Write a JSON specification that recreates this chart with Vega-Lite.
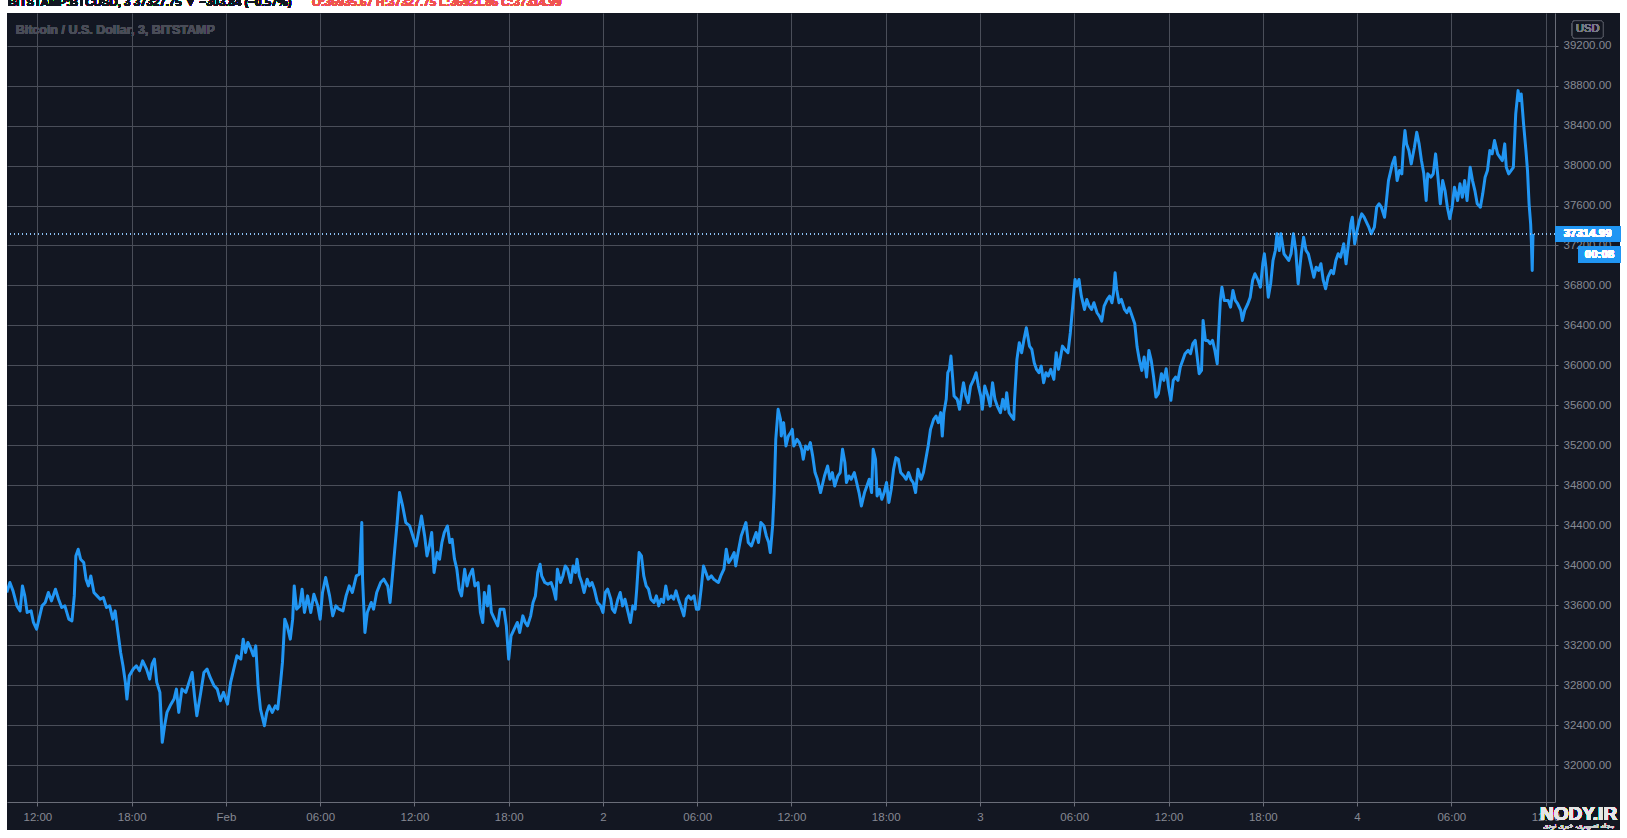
{
  "$schema": "https://vega.github.io/schema/vega-lite/v6.json",
  "autosize": {"type": "none"},
  "width": 1548,
  "height": 789,
  "padding": {"left": 7, "top": 13, "right": 72, "bottom": 36},
  "background": "#131722",
  "config": {
    "view": {"stroke": null},
    "axis": {
      "grid": true,
      "gridColor": "#4a4e59",
      "gridWidth": 1,
      "domain": true,
      "domainColor": "#6a6d78",
      "tickColor": "#6a6d78",
      "labelColor": "#868993",
      "labelFont": "Liberation Sans",
      "labelFontSize": 11.5,
      "labelOverlap": false,
      "labelFlush": false
    }
  },
  "data": {
    "format": {"parse": {"time": "date:'%Y-%m-%d %H:%M'"}},
    "values": [
      {"time": "2021-01-31 10:03", "close": 33727},
      {"time": "2021-01-31 10:15", "close": 33827},
      {"time": "2021-01-31 10:27", "close": 33743},
      {"time": "2021-01-31 10:42", "close": 33593},
      {"time": "2021-01-31 10:54", "close": 33543},
      {"time": "2021-01-31 11:03", "close": 33793},
      {"time": "2021-01-31 11:12", "close": 33693},
      {"time": "2021-01-31 11:21", "close": 33527},
      {"time": "2021-01-31 11:36", "close": 33543},
      {"time": "2021-01-31 11:45", "close": 33427},
      {"time": "2021-01-31 11:57", "close": 33360},
      {"time": "2021-01-31 12:09", "close": 33493},
      {"time": "2021-01-31 12:18", "close": 33593},
      {"time": "2021-01-31 12:30", "close": 33627},
      {"time": "2021-01-31 12:42", "close": 33727},
      {"time": "2021-01-31 12:54", "close": 33643},
      {"time": "2021-01-31 13:09", "close": 33760},
      {"time": "2021-01-31 13:21", "close": 33660},
      {"time": "2021-01-31 13:33", "close": 33577},
      {"time": "2021-01-31 13:45", "close": 33593},
      {"time": "2021-01-31 14:00", "close": 33460},
      {"time": "2021-01-31 14:12", "close": 33443},
      {"time": "2021-01-31 14:21", "close": 33693},
      {"time": "2021-01-31 14:27", "close": 34093},
      {"time": "2021-01-31 14:36", "close": 34160},
      {"time": "2021-01-31 14:45", "close": 34060},
      {"time": "2021-01-31 14:57", "close": 34027},
      {"time": "2021-01-31 15:06", "close": 33860},
      {"time": "2021-01-31 15:15", "close": 33793},
      {"time": "2021-01-31 15:24", "close": 33893},
      {"time": "2021-01-31 15:36", "close": 33727},
      {"time": "2021-01-31 15:48", "close": 33693},
      {"time": "2021-01-31 16:00", "close": 33660},
      {"time": "2021-01-31 16:12", "close": 33677},
      {"time": "2021-01-31 16:24", "close": 33577},
      {"time": "2021-01-31 16:36", "close": 33593},
      {"time": "2021-01-31 16:48", "close": 33460},
      {"time": "2021-01-31 16:57", "close": 33543},
      {"time": "2021-01-31 17:06", "close": 33360},
      {"time": "2021-01-31 17:18", "close": 33127},
      {"time": "2021-01-31 17:27", "close": 32993},
      {"time": "2021-01-31 17:36", "close": 32827},
      {"time": "2021-01-31 17:42", "close": 32660},
      {"time": "2021-01-31 17:51", "close": 32893},
      {"time": "2021-01-31 18:06", "close": 32960},
      {"time": "2021-01-31 18:18", "close": 32993},
      {"time": "2021-01-31 18:30", "close": 32943},
      {"time": "2021-01-31 18:42", "close": 33043},
      {"time": "2021-01-31 18:57", "close": 32960},
      {"time": "2021-01-31 19:09", "close": 32860},
      {"time": "2021-01-31 19:18", "close": 33010},
      {"time": "2021-01-31 19:27", "close": 33060},
      {"time": "2021-01-31 19:36", "close": 32827},
      {"time": "2021-01-31 19:48", "close": 32727},
      {"time": "2021-01-31 19:57", "close": 32227},
      {"time": "2021-01-31 20:06", "close": 32393},
      {"time": "2021-01-31 20:15", "close": 32527},
      {"time": "2021-01-31 20:27", "close": 32593},
      {"time": "2021-01-31 20:42", "close": 32660},
      {"time": "2021-01-31 20:51", "close": 32760},
      {"time": "2021-01-31 21:00", "close": 32527},
      {"time": "2021-01-31 21:12", "close": 32760},
      {"time": "2021-01-31 21:27", "close": 32727},
      {"time": "2021-01-31 21:39", "close": 32827},
      {"time": "2021-01-31 21:51", "close": 32927},
      {"time": "2021-01-31 22:00", "close": 32693},
      {"time": "2021-01-31 22:09", "close": 32493},
      {"time": "2021-01-31 22:24", "close": 32727},
      {"time": "2021-01-31 22:36", "close": 32927},
      {"time": "2021-01-31 22:48", "close": 32960},
      {"time": "2021-01-31 23:00", "close": 32877},
      {"time": "2021-01-31 23:15", "close": 32793},
      {"time": "2021-01-31 23:27", "close": 32760},
      {"time": "2021-01-31 23:39", "close": 32643},
      {"time": "2021-01-31 23:51", "close": 32727},
      {"time": "2021-02-01 00:06", "close": 32610},
      {"time": "2021-02-01 00:18", "close": 32827},
      {"time": "2021-02-01 00:30", "close": 32960},
      {"time": "2021-02-01 00:42", "close": 33093},
      {"time": "2021-02-01 00:57", "close": 33060},
      {"time": "2021-02-01 01:06", "close": 33260},
      {"time": "2021-02-01 01:15", "close": 33127},
      {"time": "2021-02-01 01:24", "close": 33227},
      {"time": "2021-02-01 01:36", "close": 33160},
      {"time": "2021-02-01 01:45", "close": 33093},
      {"time": "2021-02-01 01:54", "close": 33193},
      {"time": "2021-02-01 02:03", "close": 32793},
      {"time": "2021-02-01 02:12", "close": 32560},
      {"time": "2021-02-01 02:27", "close": 32393},
      {"time": "2021-02-01 02:36", "close": 32527},
      {"time": "2021-02-01 02:45", "close": 32593},
      {"time": "2021-02-01 02:57", "close": 32527},
      {"time": "2021-02-01 03:09", "close": 32593},
      {"time": "2021-02-01 03:18", "close": 32560},
      {"time": "2021-02-01 03:30", "close": 32860},
      {"time": "2021-02-01 03:36", "close": 33027},
      {"time": "2021-02-01 03:45", "close": 33460},
      {"time": "2021-02-01 03:54", "close": 33393},
      {"time": "2021-02-01 04:06", "close": 33260},
      {"time": "2021-02-01 04:15", "close": 33460},
      {"time": "2021-02-01 04:21", "close": 33793},
      {"time": "2021-02-01 04:30", "close": 33560},
      {"time": "2021-02-01 04:42", "close": 33593},
      {"time": "2021-02-01 04:51", "close": 33760},
      {"time": "2021-02-01 05:00", "close": 33527},
      {"time": "2021-02-01 05:12", "close": 33693},
      {"time": "2021-02-01 05:24", "close": 33527},
      {"time": "2021-02-01 05:36", "close": 33710},
      {"time": "2021-02-01 05:51", "close": 33593},
      {"time": "2021-02-01 06:00", "close": 33460},
      {"time": "2021-02-01 06:09", "close": 33727},
      {"time": "2021-02-01 06:21", "close": 33877},
      {"time": "2021-02-01 06:36", "close": 33693},
      {"time": "2021-02-01 06:48", "close": 33493},
      {"time": "2021-02-01 07:00", "close": 33593},
      {"time": "2021-02-01 07:12", "close": 33560},
      {"time": "2021-02-01 07:27", "close": 33543},
      {"time": "2021-02-01 07:39", "close": 33693},
      {"time": "2021-02-01 07:51", "close": 33793},
      {"time": "2021-02-01 08:03", "close": 33727},
      {"time": "2021-02-01 08:18", "close": 33893},
      {"time": "2021-02-01 08:30", "close": 33910},
      {"time": "2021-02-01 08:39", "close": 34427},
      {"time": "2021-02-01 08:42", "close": 33860},
      {"time": "2021-02-01 08:51", "close": 33327},
      {"time": "2021-02-01 09:00", "close": 33527},
      {"time": "2021-02-01 09:15", "close": 33627},
      {"time": "2021-02-01 09:24", "close": 33560},
      {"time": "2021-02-01 09:36", "close": 33727},
      {"time": "2021-02-01 09:51", "close": 33827},
      {"time": "2021-02-01 10:03", "close": 33860},
      {"time": "2021-02-01 10:18", "close": 33793},
      {"time": "2021-02-01 10:27", "close": 33627},
      {"time": "2021-02-01 10:36", "close": 33893},
      {"time": "2021-02-01 10:45", "close": 34160},
      {"time": "2021-02-01 10:54", "close": 34427},
      {"time": "2021-02-01 11:03", "close": 34727},
      {"time": "2021-02-01 11:15", "close": 34593},
      {"time": "2021-02-01 11:27", "close": 34427},
      {"time": "2021-02-01 11:42", "close": 34393},
      {"time": "2021-02-01 11:54", "close": 34293},
      {"time": "2021-02-01 12:06", "close": 34193},
      {"time": "2021-02-01 12:18", "close": 34360},
      {"time": "2021-02-01 12:27", "close": 34493},
      {"time": "2021-02-01 12:39", "close": 34293},
      {"time": "2021-02-01 12:48", "close": 34093},
      {"time": "2021-02-01 12:57", "close": 34193},
      {"time": "2021-02-01 13:06", "close": 34327},
      {"time": "2021-02-01 13:15", "close": 33927},
      {"time": "2021-02-01 13:27", "close": 34127},
      {"time": "2021-02-01 13:36", "close": 34060},
      {"time": "2021-02-01 13:45", "close": 34227},
      {"time": "2021-02-01 13:54", "close": 34327},
      {"time": "2021-02-01 14:06", "close": 34393},
      {"time": "2021-02-01 14:15", "close": 34227},
      {"time": "2021-02-01 14:24", "close": 34260},
      {"time": "2021-02-01 14:33", "close": 34060},
      {"time": "2021-02-01 14:42", "close": 33960},
      {"time": "2021-02-01 14:51", "close": 33760},
      {"time": "2021-02-01 15:00", "close": 33693},
      {"time": "2021-02-01 15:12", "close": 33960},
      {"time": "2021-02-01 15:21", "close": 33793},
      {"time": "2021-02-01 15:30", "close": 33893},
      {"time": "2021-02-01 15:42", "close": 33960},
      {"time": "2021-02-01 15:51", "close": 33793},
      {"time": "2021-02-01 16:03", "close": 33827},
      {"time": "2021-02-01 16:12", "close": 33527},
      {"time": "2021-02-01 16:21", "close": 33427},
      {"time": "2021-02-01 16:27", "close": 33727},
      {"time": "2021-02-01 16:39", "close": 33593},
      {"time": "2021-02-01 16:45", "close": 33793},
      {"time": "2021-02-01 16:54", "close": 33527},
      {"time": "2021-02-01 17:06", "close": 33460},
      {"time": "2021-02-01 17:18", "close": 33393},
      {"time": "2021-02-01 17:27", "close": 33560},
      {"time": "2021-02-01 17:42", "close": 33560},
      {"time": "2021-02-01 17:51", "close": 33393},
      {"time": "2021-02-01 18:00", "close": 33060},
      {"time": "2021-02-01 18:09", "close": 33293},
      {"time": "2021-02-01 18:21", "close": 33360},
      {"time": "2021-02-01 18:33", "close": 33427},
      {"time": "2021-02-01 18:42", "close": 33327},
      {"time": "2021-02-01 18:54", "close": 33493},
      {"time": "2021-02-01 19:03", "close": 33427},
      {"time": "2021-02-01 19:12", "close": 33393},
      {"time": "2021-02-01 19:24", "close": 33493},
      {"time": "2021-02-01 19:33", "close": 33627},
      {"time": "2021-02-01 19:42", "close": 33693},
      {"time": "2021-02-01 19:51", "close": 33927},
      {"time": "2021-02-01 20:00", "close": 34010},
      {"time": "2021-02-01 20:06", "close": 33893},
      {"time": "2021-02-01 20:18", "close": 33827},
      {"time": "2021-02-01 20:30", "close": 33810},
      {"time": "2021-02-01 20:42", "close": 33827},
      {"time": "2021-02-01 20:51", "close": 33760},
      {"time": "2021-02-01 21:00", "close": 33660},
      {"time": "2021-02-01 21:06", "close": 33960},
      {"time": "2021-02-01 21:18", "close": 33827},
      {"time": "2021-02-01 21:27", "close": 33893},
      {"time": "2021-02-01 21:36", "close": 33993},
      {"time": "2021-02-01 21:45", "close": 33960},
      {"time": "2021-02-01 21:57", "close": 33827},
      {"time": "2021-02-01 22:06", "close": 33993},
      {"time": "2021-02-01 22:15", "close": 33927},
      {"time": "2021-02-01 22:21", "close": 34060},
      {"time": "2021-02-01 22:30", "close": 33893},
      {"time": "2021-02-01 22:39", "close": 33827},
      {"time": "2021-02-01 22:48", "close": 33727},
      {"time": "2021-02-01 23:00", "close": 33860},
      {"time": "2021-02-01 23:09", "close": 33793},
      {"time": "2021-02-01 23:18", "close": 33827},
      {"time": "2021-02-01 23:27", "close": 33760},
      {"time": "2021-02-01 23:39", "close": 33627},
      {"time": "2021-02-01 23:51", "close": 33593},
      {"time": "2021-02-02 00:00", "close": 33527},
      {"time": "2021-02-02 00:09", "close": 33727},
      {"time": "2021-02-02 00:18", "close": 33760},
      {"time": "2021-02-02 00:30", "close": 33660},
      {"time": "2021-02-02 00:36", "close": 33560},
      {"time": "2021-02-02 00:45", "close": 33527},
      {"time": "2021-02-02 00:57", "close": 33660},
      {"time": "2021-02-02 01:06", "close": 33727},
      {"time": "2021-02-02 01:15", "close": 33593},
      {"time": "2021-02-02 01:24", "close": 33660},
      {"time": "2021-02-02 01:36", "close": 33527},
      {"time": "2021-02-02 01:45", "close": 33427},
      {"time": "2021-02-02 01:54", "close": 33593},
      {"time": "2021-02-02 02:03", "close": 33560},
      {"time": "2021-02-02 02:09", "close": 33760},
      {"time": "2021-02-02 02:18", "close": 34127},
      {"time": "2021-02-02 02:27", "close": 34093},
      {"time": "2021-02-02 02:36", "close": 33893},
      {"time": "2021-02-02 02:45", "close": 33793},
      {"time": "2021-02-02 02:54", "close": 33760},
      {"time": "2021-02-02 03:03", "close": 33660},
      {"time": "2021-02-02 03:15", "close": 33627},
      {"time": "2021-02-02 03:24", "close": 33693},
      {"time": "2021-02-02 03:33", "close": 33593},
      {"time": "2021-02-02 03:42", "close": 33660},
      {"time": "2021-02-02 03:51", "close": 33627},
      {"time": "2021-02-02 04:00", "close": 33793},
      {"time": "2021-02-02 04:09", "close": 33660},
      {"time": "2021-02-02 04:21", "close": 33693},
      {"time": "2021-02-02 04:30", "close": 33660},
      {"time": "2021-02-02 04:39", "close": 33743},
      {"time": "2021-02-02 04:48", "close": 33660},
      {"time": "2021-02-02 04:57", "close": 33593},
      {"time": "2021-02-02 05:09", "close": 33493},
      {"time": "2021-02-02 05:18", "close": 33660},
      {"time": "2021-02-02 05:27", "close": 33693},
      {"time": "2021-02-02 05:36", "close": 33660},
      {"time": "2021-02-02 05:48", "close": 33693},
      {"time": "2021-02-02 05:57", "close": 33560},
      {"time": "2021-02-02 06:06", "close": 33560},
      {"time": "2021-02-02 06:15", "close": 33760},
      {"time": "2021-02-02 06:24", "close": 33993},
      {"time": "2021-02-02 06:33", "close": 33927},
      {"time": "2021-02-02 06:42", "close": 33860},
      {"time": "2021-02-02 06:54", "close": 33893},
      {"time": "2021-02-02 07:03", "close": 33860},
      {"time": "2021-02-02 07:12", "close": 33843},
      {"time": "2021-02-02 07:21", "close": 33827},
      {"time": "2021-02-02 07:30", "close": 33893},
      {"time": "2021-02-02 07:42", "close": 33960},
      {"time": "2021-02-02 07:51", "close": 34160},
      {"time": "2021-02-02 08:00", "close": 34027},
      {"time": "2021-02-02 08:09", "close": 34060},
      {"time": "2021-02-02 08:21", "close": 34127},
      {"time": "2021-02-02 08:27", "close": 33993},
      {"time": "2021-02-02 08:36", "close": 34127},
      {"time": "2021-02-02 08:48", "close": 34293},
      {"time": "2021-02-02 08:57", "close": 34360},
      {"time": "2021-02-02 09:06", "close": 34427},
      {"time": "2021-02-02 09:15", "close": 34227},
      {"time": "2021-02-02 09:27", "close": 34193},
      {"time": "2021-02-02 09:36", "close": 34260},
      {"time": "2021-02-02 09:45", "close": 34327},
      {"time": "2021-02-02 09:54", "close": 34227},
      {"time": "2021-02-02 10:03", "close": 34427},
      {"time": "2021-02-02 10:15", "close": 34393},
      {"time": "2021-02-02 10:24", "close": 34293},
      {"time": "2021-02-02 10:33", "close": 34227},
      {"time": "2021-02-02 10:39", "close": 34127},
      {"time": "2021-02-02 10:48", "close": 34393},
      {"time": "2021-02-02 10:54", "close": 34727},
      {"time": "2021-02-02 11:00", "close": 35260},
      {"time": "2021-02-02 11:09", "close": 35560},
      {"time": "2021-02-02 11:18", "close": 35460},
      {"time": "2021-02-02 11:21", "close": 35293},
      {"time": "2021-02-02 11:30", "close": 35427},
      {"time": "2021-02-02 11:39", "close": 35193},
      {"time": "2021-02-02 11:48", "close": 35293},
      {"time": "2021-02-02 11:57", "close": 35327},
      {"time": "2021-02-02 12:03", "close": 35360},
      {"time": "2021-02-02 12:09", "close": 35193},
      {"time": "2021-02-02 12:21", "close": 35260},
      {"time": "2021-02-02 12:30", "close": 35227},
      {"time": "2021-02-02 12:39", "close": 35160},
      {"time": "2021-02-02 12:45", "close": 35060},
      {"time": "2021-02-02 12:54", "close": 35193},
      {"time": "2021-02-02 13:03", "close": 35160},
      {"time": "2021-02-02 13:12", "close": 35227},
      {"time": "2021-02-02 13:21", "close": 35093},
      {"time": "2021-02-02 13:30", "close": 34927},
      {"time": "2021-02-02 13:39", "close": 34860},
      {"time": "2021-02-02 13:51", "close": 34727},
      {"time": "2021-02-02 13:57", "close": 34793},
      {"time": "2021-02-02 14:06", "close": 34893},
      {"time": "2021-02-02 14:18", "close": 34993},
      {"time": "2021-02-02 14:27", "close": 34860},
      {"time": "2021-02-02 14:36", "close": 34927},
      {"time": "2021-02-02 14:45", "close": 34793},
      {"time": "2021-02-02 14:57", "close": 34893},
      {"time": "2021-02-02 15:06", "close": 34927},
      {"time": "2021-02-02 15:15", "close": 35160},
      {"time": "2021-02-02 15:24", "close": 35027},
      {"time": "2021-02-02 15:30", "close": 34827},
      {"time": "2021-02-02 15:39", "close": 34893},
      {"time": "2021-02-02 15:48", "close": 34860},
      {"time": "2021-02-02 16:00", "close": 34927},
      {"time": "2021-02-02 16:09", "close": 34827},
      {"time": "2021-02-02 16:18", "close": 34727},
      {"time": "2021-02-02 16:27", "close": 34593},
      {"time": "2021-02-02 16:39", "close": 34727},
      {"time": "2021-02-02 16:48", "close": 34793},
      {"time": "2021-02-02 16:57", "close": 34860},
      {"time": "2021-02-02 17:06", "close": 34727},
      {"time": "2021-02-02 17:12", "close": 35160},
      {"time": "2021-02-02 17:21", "close": 35060},
      {"time": "2021-02-02 17:27", "close": 34693},
      {"time": "2021-02-02 17:36", "close": 34760},
      {"time": "2021-02-02 17:45", "close": 34660},
      {"time": "2021-02-02 17:54", "close": 34727},
      {"time": "2021-02-02 18:03", "close": 34827},
      {"time": "2021-02-02 18:12", "close": 34627},
      {"time": "2021-02-02 18:21", "close": 34760},
      {"time": "2021-02-02 18:30", "close": 34960},
      {"time": "2021-02-02 18:39", "close": 35077},
      {"time": "2021-02-02 18:48", "close": 35060},
      {"time": "2021-02-02 18:57", "close": 34927},
      {"time": "2021-02-02 19:09", "close": 34893},
      {"time": "2021-02-02 19:18", "close": 34860},
      {"time": "2021-02-02 19:27", "close": 34927},
      {"time": "2021-02-02 19:36", "close": 34860},
      {"time": "2021-02-02 19:45", "close": 34827},
      {"time": "2021-02-02 19:54", "close": 34727},
      {"time": "2021-02-02 20:03", "close": 34960},
      {"time": "2021-02-02 20:15", "close": 34860},
      {"time": "2021-02-02 20:24", "close": 34927},
      {"time": "2021-02-02 20:33", "close": 35060},
      {"time": "2021-02-02 20:42", "close": 35193},
      {"time": "2021-02-02 20:51", "close": 35360},
      {"time": "2021-02-02 21:03", "close": 35460},
      {"time": "2021-02-02 21:12", "close": 35493},
      {"time": "2021-02-02 21:21", "close": 35427},
      {"time": "2021-02-02 21:30", "close": 35527},
      {"time": "2021-02-02 21:36", "close": 35293},
      {"time": "2021-02-02 21:42", "close": 35527},
      {"time": "2021-02-02 21:51", "close": 35660},
      {"time": "2021-02-02 21:57", "close": 35927},
      {"time": "2021-02-02 22:03", "close": 35960},
      {"time": "2021-02-02 22:09", "close": 36093},
      {"time": "2021-02-02 22:15", "close": 35893},
      {"time": "2021-02-02 22:21", "close": 35693},
      {"time": "2021-02-02 22:33", "close": 35660},
      {"time": "2021-02-02 22:42", "close": 35560},
      {"time": "2021-02-02 22:51", "close": 35727},
      {"time": "2021-02-02 22:57", "close": 35827},
      {"time": "2021-02-02 23:06", "close": 35693},
      {"time": "2021-02-02 23:15", "close": 35627},
      {"time": "2021-02-02 23:24", "close": 35793},
      {"time": "2021-02-02 23:36", "close": 35860},
      {"time": "2021-02-02 23:45", "close": 35927},
      {"time": "2021-02-02 23:54", "close": 35793},
      {"time": "2021-02-03 00:03", "close": 35693},
      {"time": "2021-02-03 00:09", "close": 35560},
      {"time": "2021-02-03 00:18", "close": 35793},
      {"time": "2021-02-03 00:30", "close": 35693},
      {"time": "2021-02-03 00:39", "close": 35593},
      {"time": "2021-02-03 00:48", "close": 35827},
      {"time": "2021-02-03 00:57", "close": 35660},
      {"time": "2021-02-03 01:06", "close": 35593},
      {"time": "2021-02-03 01:18", "close": 35527},
      {"time": "2021-02-03 01:27", "close": 35660},
      {"time": "2021-02-03 01:36", "close": 35560},
      {"time": "2021-02-03 01:42", "close": 35727},
      {"time": "2021-02-03 01:51", "close": 35527},
      {"time": "2021-02-03 02:00", "close": 35493},
      {"time": "2021-02-03 02:09", "close": 35460},
      {"time": "2021-02-03 02:12", "close": 35660},
      {"time": "2021-02-03 02:21", "close": 36060},
      {"time": "2021-02-03 02:30", "close": 36227},
      {"time": "2021-02-03 02:39", "close": 36127},
      {"time": "2021-02-03 02:48", "close": 36260},
      {"time": "2021-02-03 02:57", "close": 36377},
      {"time": "2021-02-03 03:09", "close": 36193},
      {"time": "2021-02-03 03:18", "close": 36160},
      {"time": "2021-02-03 03:27", "close": 36027},
      {"time": "2021-02-03 03:36", "close": 35960},
      {"time": "2021-02-03 03:45", "close": 35927},
      {"time": "2021-02-03 03:54", "close": 35993},
      {"time": "2021-02-03 04:03", "close": 35827},
      {"time": "2021-02-03 04:12", "close": 35927},
      {"time": "2021-02-03 04:21", "close": 35893},
      {"time": "2021-02-03 04:30", "close": 35960},
      {"time": "2021-02-03 04:42", "close": 35860},
      {"time": "2021-02-03 04:51", "close": 36127},
      {"time": "2021-02-03 05:00", "close": 35960},
      {"time": "2021-02-03 05:06", "close": 36060},
      {"time": "2021-02-03 05:15", "close": 36193},
      {"time": "2021-02-03 05:24", "close": 36160},
      {"time": "2021-02-03 05:36", "close": 36127},
      {"time": "2021-02-03 05:45", "close": 36327},
      {"time": "2021-02-03 05:54", "close": 36593},
      {"time": "2021-02-03 06:03", "close": 36860},
      {"time": "2021-02-03 06:09", "close": 36793},
      {"time": "2021-02-03 06:18", "close": 36860},
      {"time": "2021-02-03 06:27", "close": 36693},
      {"time": "2021-02-03 06:39", "close": 36560},
      {"time": "2021-02-03 06:48", "close": 36660},
      {"time": "2021-02-03 06:57", "close": 36593},
      {"time": "2021-02-03 07:06", "close": 36560},
      {"time": "2021-02-03 07:15", "close": 36627},
      {"time": "2021-02-03 07:27", "close": 36527},
      {"time": "2021-02-03 07:36", "close": 36493},
      {"time": "2021-02-03 07:45", "close": 36443},
      {"time": "2021-02-03 07:54", "close": 36593},
      {"time": "2021-02-03 08:06", "close": 36660},
      {"time": "2021-02-03 08:15", "close": 36693},
      {"time": "2021-02-03 08:24", "close": 36627},
      {"time": "2021-02-03 08:30", "close": 36727},
      {"time": "2021-02-03 08:36", "close": 36927},
      {"time": "2021-02-03 08:42", "close": 36760},
      {"time": "2021-02-03 08:51", "close": 36627},
      {"time": "2021-02-03 09:00", "close": 36660},
      {"time": "2021-02-03 09:12", "close": 36560},
      {"time": "2021-02-03 09:21", "close": 36527},
      {"time": "2021-02-03 09:30", "close": 36577},
      {"time": "2021-02-03 09:51", "close": 36417},
      {"time": "2021-02-03 10:00", "close": 36183},
      {"time": "2021-02-03 10:09", "close": 36050},
      {"time": "2021-02-03 10:18", "close": 35950},
      {"time": "2021-02-03 10:27", "close": 36083},
      {"time": "2021-02-03 10:36", "close": 35883},
      {"time": "2021-02-03 10:45", "close": 36150},
      {"time": "2021-02-03 10:54", "close": 36050},
      {"time": "2021-02-03 11:03", "close": 35883},
      {"time": "2021-02-03 11:12", "close": 35683},
      {"time": "2021-02-03 11:21", "close": 35717},
      {"time": "2021-02-03 11:33", "close": 35917},
      {"time": "2021-02-03 11:42", "close": 35850},
      {"time": "2021-02-03 11:51", "close": 35967},
      {"time": "2021-02-03 12:00", "close": 35783},
      {"time": "2021-02-03 12:09", "close": 35650},
      {"time": "2021-02-03 12:18", "close": 35850},
      {"time": "2021-02-03 12:27", "close": 35883},
      {"time": "2021-02-03 12:36", "close": 35850},
      {"time": "2021-02-03 12:45", "close": 35983},
      {"time": "2021-02-03 12:54", "close": 36050},
      {"time": "2021-02-03 13:03", "close": 36117},
      {"time": "2021-02-03 13:15", "close": 36150},
      {"time": "2021-02-03 13:24", "close": 36117},
      {"time": "2021-02-03 13:33", "close": 36217},
      {"time": "2021-02-03 13:42", "close": 36250},
      {"time": "2021-02-03 13:48", "close": 36117},
      {"time": "2021-02-03 13:57", "close": 35917},
      {"time": "2021-02-03 14:06", "close": 35950},
      {"time": "2021-02-03 14:12", "close": 36450},
      {"time": "2021-02-03 14:21", "close": 36250},
      {"time": "2021-02-03 14:30", "close": 36250},
      {"time": "2021-02-03 14:39", "close": 36217},
      {"time": "2021-02-03 14:48", "close": 36250},
      {"time": "2021-02-03 14:57", "close": 36150},
      {"time": "2021-02-03 15:06", "close": 36017},
      {"time": "2021-02-03 15:12", "close": 36350},
      {"time": "2021-02-03 15:18", "close": 36650},
      {"time": "2021-02-03 15:24", "close": 36783},
      {"time": "2021-02-03 15:33", "close": 36650},
      {"time": "2021-02-03 15:48", "close": 36650},
      {"time": "2021-02-03 15:57", "close": 36583},
      {"time": "2021-02-03 16:06", "close": 36750},
      {"time": "2021-02-03 16:15", "close": 36650},
      {"time": "2021-02-03 16:24", "close": 36617},
      {"time": "2021-02-03 16:36", "close": 36550},
      {"time": "2021-02-03 16:42", "close": 36450},
      {"time": "2021-02-03 16:51", "close": 36550},
      {"time": "2021-02-03 17:03", "close": 36617},
      {"time": "2021-02-03 17:12", "close": 36683},
      {"time": "2021-02-03 17:21", "close": 36850},
      {"time": "2021-02-03 17:30", "close": 36917},
      {"time": "2021-02-03 17:42", "close": 36850},
      {"time": "2021-02-03 17:51", "close": 36783},
      {"time": "2021-02-03 18:00", "close": 37017},
      {"time": "2021-02-03 18:06", "close": 37117},
      {"time": "2021-02-03 18:12", "close": 36983},
      {"time": "2021-02-03 18:21", "close": 36683},
      {"time": "2021-02-03 18:30", "close": 36817},
      {"time": "2021-02-03 18:39", "close": 37050},
      {"time": "2021-02-03 18:48", "close": 37150},
      {"time": "2021-02-03 18:54", "close": 37317},
      {"time": "2021-02-03 19:03", "close": 37150},
      {"time": "2021-02-03 19:09", "close": 37317},
      {"time": "2021-02-03 19:21", "close": 37117},
      {"time": "2021-02-03 19:30", "close": 37083},
      {"time": "2021-02-03 19:39", "close": 37050},
      {"time": "2021-02-03 19:48", "close": 37117},
      {"time": "2021-02-03 19:57", "close": 37317},
      {"time": "2021-02-03 20:06", "close": 37150},
      {"time": "2021-02-03 20:15", "close": 36817},
      {"time": "2021-02-03 20:27", "close": 37117},
      {"time": "2021-02-03 20:36", "close": 37283},
      {"time": "2021-02-03 20:45", "close": 37150},
      {"time": "2021-02-03 20:54", "close": 37117},
      {"time": "2021-02-03 21:03", "close": 37017},
      {"time": "2021-02-03 21:15", "close": 36883},
      {"time": "2021-02-03 21:24", "close": 36983},
      {"time": "2021-02-03 21:33", "close": 36950},
      {"time": "2021-02-03 21:42", "close": 37017},
      {"time": "2021-02-03 21:51", "close": 36850},
      {"time": "2021-02-03 22:00", "close": 36767},
      {"time": "2021-02-03 22:09", "close": 36883},
      {"time": "2021-02-03 22:21", "close": 36950},
      {"time": "2021-02-03 22:30", "close": 36917},
      {"time": "2021-02-03 22:39", "close": 37050},
      {"time": "2021-02-03 22:48", "close": 37117},
      {"time": "2021-02-03 22:57", "close": 37083},
      {"time": "2021-02-03 23:09", "close": 37217},
      {"time": "2021-02-03 23:18", "close": 37017},
      {"time": "2021-02-03 23:27", "close": 37217},
      {"time": "2021-02-03 23:36", "close": 37417},
      {"time": "2021-02-03 23:42", "close": 37483},
      {"time": "2021-02-03 23:51", "close": 37217},
      {"time": "2021-02-04 00:00", "close": 37350},
      {"time": "2021-02-04 00:09", "close": 37450},
      {"time": "2021-02-04 00:18", "close": 37517},
      {"time": "2021-02-04 00:27", "close": 37483},
      {"time": "2021-02-04 00:39", "close": 37417},
      {"time": "2021-02-04 00:45", "close": 37383},
      {"time": "2021-02-04 00:54", "close": 37317},
      {"time": "2021-02-04 01:06", "close": 37383},
      {"time": "2021-02-04 01:15", "close": 37583},
      {"time": "2021-02-04 01:24", "close": 37617},
      {"time": "2021-02-04 01:33", "close": 37583},
      {"time": "2021-02-04 01:45", "close": 37483},
      {"time": "2021-02-04 01:51", "close": 37617},
      {"time": "2021-02-04 02:00", "close": 37850},
      {"time": "2021-02-04 02:06", "close": 37917},
      {"time": "2021-02-04 02:15", "close": 38017},
      {"time": "2021-02-04 02:24", "close": 38083},
      {"time": "2021-02-04 02:33", "close": 37850},
      {"time": "2021-02-04 02:42", "close": 37950},
      {"time": "2021-02-04 02:51", "close": 37917},
      {"time": "2021-02-04 02:57", "close": 38183},
      {"time": "2021-02-04 03:03", "close": 38350},
      {"time": "2021-02-04 03:09", "close": 38217},
      {"time": "2021-02-04 03:18", "close": 38150},
      {"time": "2021-02-04 03:27", "close": 38017},
      {"time": "2021-02-04 03:39", "close": 38183},
      {"time": "2021-02-04 03:48", "close": 38333},
      {"time": "2021-02-04 03:57", "close": 38217},
      {"time": "2021-02-04 04:06", "close": 38050},
      {"time": "2021-02-04 04:15", "close": 37917},
      {"time": "2021-02-04 04:24", "close": 37650},
      {"time": "2021-02-04 04:30", "close": 37917},
      {"time": "2021-02-04 04:42", "close": 37883},
      {"time": "2021-02-04 04:51", "close": 37917},
      {"time": "2021-02-04 05:00", "close": 38117},
      {"time": "2021-02-04 05:09", "close": 37883},
      {"time": "2021-02-04 05:18", "close": 37617},
      {"time": "2021-02-04 05:27", "close": 37850},
      {"time": "2021-02-04 05:36", "close": 37750},
      {"time": "2021-02-04 05:45", "close": 37583},
      {"time": "2021-02-04 05:54", "close": 37467},
      {"time": "2021-02-04 06:03", "close": 37583},
      {"time": "2021-02-04 06:12", "close": 37783},
      {"time": "2021-02-04 06:24", "close": 37650},
      {"time": "2021-02-04 06:33", "close": 37817},
      {"time": "2021-02-04 06:42", "close": 37683},
      {"time": "2021-02-04 06:51", "close": 37850},
      {"time": "2021-02-04 07:00", "close": 37650},
      {"time": "2021-02-04 07:12", "close": 37983},
      {"time": "2021-02-04 07:21", "close": 37850},
      {"time": "2021-02-04 07:30", "close": 37750},
      {"time": "2021-02-04 07:39", "close": 37617},
      {"time": "2021-02-04 07:51", "close": 37583},
      {"time": "2021-02-04 08:00", "close": 37717},
      {"time": "2021-02-04 08:09", "close": 37883},
      {"time": "2021-02-04 08:18", "close": 37950},
      {"time": "2021-02-04 08:27", "close": 38150},
      {"time": "2021-02-04 08:36", "close": 38117},
      {"time": "2021-02-04 08:45", "close": 38250},
      {"time": "2021-02-04 08:57", "close": 38117},
      {"time": "2021-02-04 09:06", "close": 38083},
      {"time": "2021-02-04 09:15", "close": 38050},
      {"time": "2021-02-04 09:24", "close": 38217},
      {"time": "2021-02-04 09:30", "close": 37983},
      {"time": "2021-02-04 09:39", "close": 37917},
      {"time": "2021-02-04 09:48", "close": 37950},
      {"time": "2021-02-04 09:57", "close": 37983},
      {"time": "2021-02-04 10:06", "close": 38517},
      {"time": "2021-02-04 10:15", "close": 38750},
      {"time": "2021-02-04 10:21", "close": 38650},
      {"time": "2021-02-04 10:27", "close": 38717},
      {"time": "2021-02-04 10:36", "close": 38417},
      {"time": "2021-02-04 10:45", "close": 38150},
      {"time": "2021-02-04 10:51", "close": 37950},
      {"time": "2021-02-04 10:57", "close": 37617},
      {"time": "2021-02-04 11:03", "close": 37417},
      {"time": "2021-02-04 11:06", "close": 37217},
      {"time": "2021-02-04 11:09", "close": 36950},
      {"time": "2021-02-04 11:12", "close": 37314.99}
    ]
  },
  "layer": [
    {
      "mark": {"type": "line", "color": "#2196f3", "strokeWidth": 3, "clip": true, "strokeJoin": "round"},
      "encoding": {
        "x": {
          "field": "time",
          "type": "temporal",
          "title": null,
          "scale": {
            "domain": [
              {"year": 2021, "month": 1, "date": 31, "hours": 10, "minutes": 4},
              {"year": 2021, "month": 2, "date": 4, "hours": 12, "minutes": 36}
            ]
          },
          "axis": {
            "orient": "bottom",
            "values": [
              {"year": 2021, "month": 1, "date": 31, "hours": 12},
              {"year": 2021, "month": 1, "date": 31, "hours": 18},
              {"year": 2021, "month": 2, "date": 1, "hours": 0},
              {"year": 2021, "month": 2, "date": 1, "hours": 6},
              {"year": 2021, "month": 2, "date": 1, "hours": 12},
              {"year": 2021, "month": 2, "date": 1, "hours": 18},
              {"year": 2021, "month": 2, "date": 2, "hours": 0},
              {"year": 2021, "month": 2, "date": 2, "hours": 6},
              {"year": 2021, "month": 2, "date": 2, "hours": 12},
              {"year": 2021, "month": 2, "date": 2, "hours": 18},
              {"year": 2021, "month": 2, "date": 3, "hours": 0},
              {"year": 2021, "month": 2, "date": 3, "hours": 6},
              {"year": 2021, "month": 2, "date": 3, "hours": 12},
              {"year": 2021, "month": 2, "date": 3, "hours": 18},
              {"year": 2021, "month": 2, "date": 4, "hours": 0},
              {"year": 2021, "month": 2, "date": 4, "hours": 6},
              {"year": 2021, "month": 2, "date": 4, "hours": 12}
            ],
            "format": {"month": "%b", "week": "%-d", "date": "%-d", "hours": "%H:%M", "minutes": "%H:%M"},
            "formatType": "time",
            "tickSize": 4,
            "labelPadding": 5
          }
        },
        "y": {
          "field": "close",
          "type": "quantitative",
          "title": null,
          "scale": {"domain": [31630, 39527], "nice": false, "zero": false},
          "axis": {
            "orient": "right",
            "values": [32000, 32400, 32800, 33200, 33600, 34000, 34400, 34800, 35200, 35600, 36000, 36400, 36800, 37200, 37600, 38000, 38400, 38800, 39200],
            "format": ".2f",
            "labelAlign": "left",
            "tickSize": 3,
            "labelPadding": 5
          }
        }
      }
    },
    {
      "mark": {"type": "rule", "color": "#8fc3f5", "strokeWidth": 1, "strokeDash": [1, 3]},
      "encoding": {"y": {"datum": 37314.99}}
    },
    {
      "mark": {"type": "text", "align": "left", "baseline": "middle", "font": "Liberation Sans", "fontSize": 12.5, "fontWeight": "bold", "color": "#4a4d58"},
      "encoding": {
        "x": {"datum": {"year": 2021, "month": 1, "date": 31, "hours": 10, "minutes": 37}, "type": "temporal"},
        "y": {"datum": 39357},
        "text": {"value": "Bitcoin / U.S. Dollar, 3, BITSTAMP"}
      }
    },
    {
      "mark": {"type": "rect", "color": "#ffffff"},
      "encoding": {
        "x": {"datum": {"year": 2021, "month": 1, "date": 30}, "type": "temporal"},
        "x2": {"datum": {"year": 2021, "month": 2, "date": 6}},
        "y": {"datum": 39527},
        "y2": {"datum": 42000}
      }
    },
    {
      "mark": {"type": "rect", "color": "#ffffff"},
      "encoding": {
        "x": {"datum": {"year": 2021, "month": 1, "date": 30}, "type": "temporal"},
        "x2": {"datum": {"year": 2021, "month": 2, "date": 6}},
        "y": {"datum": 31350},
        "y2": {"datum": 29000}
      }
    },
    {
      "mark": {"type": "rect", "color": "#ffffff"},
      "encoding": {
        "x": {"datum": {"year": 2021, "month": 1, "date": 30}, "type": "temporal"},
        "x2": {"datum": {"year": 2021, "month": 1, "date": 31, "hours": 10, "minutes": 4}},
        "y": {"datum": 29000},
        "y2": {"datum": 42000}
      }
    },
    {
      "mark": {"type": "rect", "color": "#ffffff"},
      "encoding": {
        "x": {"datum": {"year": 2021, "month": 2, "date": 4, "hours": 16, "minutes": 46}, "type": "temporal"},
        "x2": {"datum": {"year": 2021, "month": 2, "date": 6}},
        "y": {"datum": 29000},
        "y2": {"datum": 42000}
      }
    },
    {
      "mark": {"type": "text", "align": "left", "baseline": "alphabetic", "font": "Liberation Sans", "fontSize": 11.5, "fontWeight": "bold", "color": "#131722"},
      "encoding": {
        "x": {"datum": {"year": 2021, "month": 1, "date": 31, "hours": 10, "minutes": 8}, "type": "temporal"},
        "y": {"datum": 39602},
        "text": {"value": "BITSTAMP:BTCUSD, 3  37327.75 ▼ −303.84 (−0.57%)"}
      }
    },
    {
      "mark": {"type": "text", "align": "left", "baseline": "alphabetic", "font": "Liberation Sans", "fontSize": 11.5, "fontWeight": "bold", "color": "#ef5350"},
      "encoding": {
        "x": {"datum": {"year": 2021, "month": 2, "date": 1, "hours": 5, "minutes": 29}, "type": "temporal"},
        "y": {"datum": 39602},
        "text": {"value": "O:36935.67 H:37327.75 L:36921.86 C:37314.99"}
      }
    },
    {
      "mark": {"type": "rect", "color": "#131722", "stroke": "#50535e", "strokeWidth": 1, "cornerRadius": 3},
      "encoding": {
        "x": {"datum": {"year": 2021, "month": 2, "date": 4, "hours": 13, "minutes": 42}, "type": "temporal"},
        "x2": {"datum": {"year": 2021, "month": 2, "date": 4, "hours": 15, "minutes": 40}},
        "y": {"datum": 39450},
        "y2": {"datum": 39274}
      }
    },
    {
      "mark": {"type": "text", "align": "center", "baseline": "middle", "font": "Liberation Sans", "fontSize": 11, "color": "#787b86"},
      "encoding": {
        "x": {"datum": {"year": 2021, "month": 2, "date": 4, "hours": 14, "minutes": 41}, "type": "temporal"},
        "y": {"datum": 39362},
        "text": {"value": "USD"}
      }
    },
    {
      "mark": {"type": "rect", "color": "#2196f3"},
      "encoding": {
        "x": {"datum": {"year": 2021, "month": 2, "date": 4, "hours": 12, "minutes": 36}, "type": "temporal"},
        "x2": {"datum": {"year": 2021, "month": 2, "date": 4, "hours": 16, "minutes": 46}},
        "y": {"datum": 37388},
        "y2": {"datum": 37238}
      }
    },
    {
      "mark": {"type": "text", "align": "left", "baseline": "middle", "font": "Liberation Sans", "fontSize": 11.5, "fontWeight": "bold", "color": "#ffffff"},
      "encoding": {
        "x": {"datum": {"year": 2021, "month": 2, "date": 4, "hours": 13, "minutes": 9}, "type": "temporal"},
        "y": {"datum": 37313},
        "text": {"value": "37314.99"}
      }
    },
    {
      "mark": {"type": "rect", "color": "#2196f3"},
      "encoding": {
        "x": {"datum": {"year": 2021, "month": 2, "date": 4, "hours": 14, "minutes": 6}, "type": "temporal"},
        "x2": {"datum": {"year": 2021, "month": 2, "date": 4, "hours": 16, "minutes": 46}},
        "y": {"datum": 37188},
        "y2": {"datum": 37028}
      }
    },
    {
      "mark": {"type": "text", "align": "center", "baseline": "middle", "font": "Liberation Sans", "fontSize": 11.5, "fontWeight": "bold", "color": "#ffffff"},
      "encoding": {
        "x": {"datum": {"year": 2021, "month": 2, "date": 4, "hours": 15, "minutes": 26}, "type": "temporal"},
        "y": {"datum": 37108},
        "text": {"value": "00:08"}
      }
    },
    {
      "mark": {"type": "text", "align": "center", "baseline": "alphabetic", "font": "Liberation Sans", "fontSize": 19, "fontWeight": "bold", "color": "#e6e6e6"},
      "encoding": {
        "x": {"datum": {"year": 2021, "month": 2, "date": 4, "hours": 14, "minutes": 6}, "type": "temporal"},
        "y": {"datum": 31450},
        "text": {"value": "NODY.IR"}
      }
    },
    {
      "mark": {"type": "text", "align": "center", "baseline": "alphabetic", "font": "DejaVu Sans", "fontSize": 6.5, "color": "#d0d0d0"},
      "encoding": {
        "x": {"datum": {"year": 2021, "month": 2, "date": 4, "hours": 14, "minutes": 6}, "type": "temporal"},
        "y": {"datum": 31365},
        "text": {"value": "مجله تصویری، خبری نودی"}
      }
    }
  ]
}
